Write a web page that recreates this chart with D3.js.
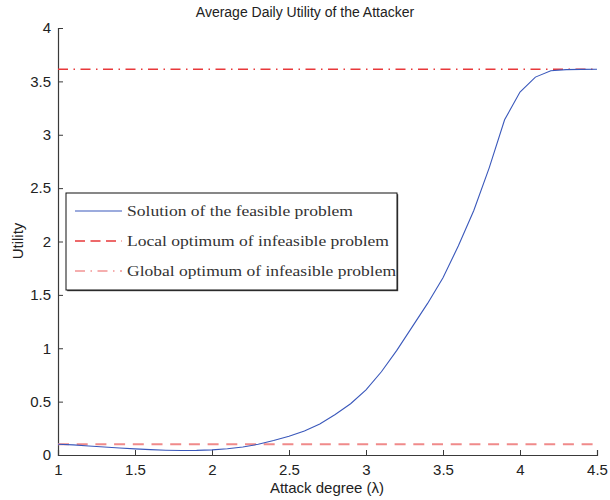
<!DOCTYPE html>
<html>
<head>
<meta charset="utf-8">
<script src="https://cdn.jsdelivr.net/npm/d3@7"></script>
<style>
  html, body { margin: 0; padding: 0; background: #fff; }
  svg { display: block; }
</style>
</head>
<body>
<svg id="chart" width="610" height="500"></svg>
<script>
// Attack degree (lambda) samples
const lambda = [1.0, 1.1, 1.2, 1.3, 1.4, 1.5, 1.6, 1.7, 1.8, 1.9,
                2.0, 2.1, 2.2, 2.3, 2.4, 2.5, 2.6, 2.7, 2.8, 2.9,
                3.0, 3.1, 3.2, 3.3, 3.4, 3.5, 3.6, 3.7, 3.8, 3.9,
                4.0, 4.1, 4.2, 4.3, 4.4, 4.5];
// Average daily utility for the feasible problem
const feasibleUtility = [0.100, 0.095, 0.085, 0.075, 0.065, 0.057, 0.050, 0.045, 0.042, 0.043,
                         0.048, 0.058, 0.075, 0.100, 0.135, 0.175, 0.225, 0.290, 0.380, 0.480,
                         0.610, 0.780, 0.980, 1.200, 1.420, 1.660, 1.960, 2.290, 2.690, 3.140,
                         3.400, 3.540, 3.600, 3.610, 3.612, 3.613];
// Constant reference levels of the infeasible problem
const upperOptimum = 3.613;
const lowerOptimum = 0.10;

const xTicks = [1, 1.5, 2, 2.5, 3, 3.5, 4, 4.5];
const yTicks = [0, 0.5, 1, 1.5, 2, 2.5, 3, 3.5, 4];
const legendLabels = ["Solution of the feasible problem",
                      "Local optimum of infeasible problem",
                      "Global optimum of infeasible problem"];

const svg = d3.select("#chart");
const plotLeft = 58, plotRight = 597, plotTop = 28, plotBottom = 455;

const x = d3.scaleLinear().domain([1, 4.5]).range([plotLeft, plotRight]);
const y = d3.scaleLinear().domain([0, 4]).range([plotBottom, plotTop]);

const axisColor = "#3a3a3a";
const sans = "'Liberation Sans', Arial, sans-serif";
const serif = "'Liberation Serif', 'DejaVu Serif', serif";

// Axes with inward ticks
const xAxis = svg.append("g").attr("transform", `translate(0,${plotBottom})`)
  .call(d3.axisBottom(x).tickValues(xTicks).tickSize(-5).tickPadding(9)
        .tickFormat(d3.format("~g")));
const yAxis = svg.append("g").attr("transform", `translate(${plotLeft},0)`)
  .call(d3.axisLeft(y).tickValues(yTicks).tickSize(-5).tickPadding(7)
        .tickFormat(d3.format("~g")));
[xAxis, yAxis].forEach(g => {
  g.select(".domain").attr("stroke", axisColor).attr("stroke-width", 1.2);
  g.selectAll(".tick line").attr("stroke", axisColor);
  g.selectAll(".tick text").attr("fill", "#222").style("font-family", sans).style("font-size", "15px");
});

// Reference levels
svg.append("line")
  .attr("x1", x(1)).attr("x2", x(4.5))
  .attr("y1", y(upperOptimum)).attr("y2", y(upperOptimum))
  .attr("stroke", "#e8383a").attr("stroke-width", 1.5)
  .attr("stroke-dasharray", "10,5.5,1.5,5.5");

svg.append("line")
  .attr("x1", x(1)).attr("x2", x(4.5))
  .attr("y1", y(lowerOptimum)).attr("y2", y(lowerOptimum))
  .attr("stroke", "#f08a8a").attr("stroke-width", 2)
  .attr("stroke-dasharray", "11,7.7");

// Feasible-problem utility curve
const line = d3.line().x((d, i) => x(lambda[i])).y(d => y(d));
svg.append("path")
  .datum(feasibleUtility)
  .attr("d", line)
  .attr("fill", "none")
  .attr("stroke", "#3a58bb")
  .attr("stroke-width", 1.1);

// Title and axis labels
svg.append("text").attr("x", 305).attr("y", 17).attr("text-anchor", "middle")
  .style("font-family", sans).style("font-size", "14px").attr("fill", "#222")
  .text("Average Daily Utility of the Attacker");
svg.append("text").attr("x", 327).attr("y", 493).attr("text-anchor", "middle")
  .style("font-family", sans).style("font-size", "15px").attr("fill", "#222")
  .text("Attack degree (λ)");
svg.append("text").attr("transform", "translate(23,241) rotate(-90)").attr("text-anchor", "middle")
  .style("font-family", sans).style("font-size", "15px").attr("fill", "#222")
  .text("Utility");

// Legend
const lg = svg.append("g");
const lx = 66, ly = 193, lw = 331, lh = 97;
lg.append("rect").attr("x", lx + 1.2).attr("y", ly + 1.2).attr("width", lw).attr("height", lh)
  .attr("fill", "#444");
lg.append("rect").attr("x", lx).attr("y", ly).attr("width", lw).attr("height", lh)
  .attr("fill", "#fff").attr("stroke", "#111").attr("stroke-width", 1);

const legendStyles = [
  { color: "#3a58bb", dash: null, width: 1.1 },
  { color: "#e8383a", dash: "10,5.5", width: 1.5 },
  { color: "#f29494", dash: "10,5.5,1.5,5.5", width: 1.5 }
];
const textWidths = [226, 262, 269];
legendLabels.forEach((label, i) => {
  const cy = 211 + i * 30;
  lg.append("line").attr("x1", 75).attr("x2", 122).attr("y1", cy).attr("y2", cy)
    .attr("stroke", legendStyles[i].color).attr("stroke-width", legendStyles[i].width)
    .attr("stroke-dasharray", legendStyles[i].dash);
  lg.append("text").attr("x", 127).attr("y", cy + 5)
    .style("font-family", serif).style("font-size", "15px").attr("fill", "#333")
    .attr("textLength", textWidths[i]).attr("lengthAdjust", "spacingAndGlyphs")
    .text(label);
});
</script>
</body>
</html>
